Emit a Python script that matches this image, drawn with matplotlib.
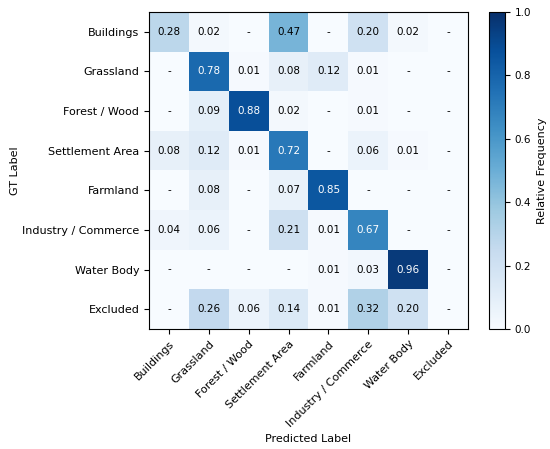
import numpy as np
import matplotlib
matplotlib.use("Agg")
from matplotlib import pyplot as plt

classes = ["Buildings", "Grassland", "Forest / Wood", "Settlement Area",
           "Farmland", "Industry / Commerce", "Water Body", "Excluded"]

# rows = GT label, cols = predicted label (0 shown as "-")
row_buildings = [0.28, 0.02, 0.00, 0.47, 0.00, 0.20, 0.02, 0.00]
row_grassland = [0.00, 0.78, 0.01, 0.08, 0.12, 0.01, 0.00, 0.00]
row_forest = [0.00, 0.09, 0.88, 0.02, 0.00, 0.01, 0.00, 0.00]
row_settlement = [0.08, 0.12, 0.01, 0.72, 0.00, 0.06, 0.01, 0.00]
row_farmland = [0.00, 0.08, 0.00, 0.07, 0.85, 0.00, 0.00, 0.00]
row_industry = [0.04, 0.06, 0.00, 0.21, 0.01, 0.67, 0.00, 0.00]
row_water = [0.00, 0.00, 0.00, 0.00, 0.01, 0.03, 0.96, 0.00]
row_excluded = [0.00, 0.26, 0.06, 0.14, 0.01, 0.32, 0.20, 0.00]

cm = np.array([row_buildings, row_grassland, row_forest, row_settlement,
               row_farmland, row_industry, row_water, row_excluded])

fig = plt.figure(figsize=(5.5, 4.49), dpi=100)
ax = fig.add_axes([149 / 550, 1 - 329 / 449, 319 / 550, 317 / 449])
cax = fig.add_axes([489 / 550, 1 - 329 / 449, 16 / 550, 317 / 449])

im = ax.imshow(cm, cmap="Blues", vmin=0, vmax=1, aspect="auto")
cb = fig.colorbar(im, cax=cax)
cb.set_label("Relative Frequency", fontsize=8, labelpad=4)
cb.ax.tick_params(labelsize=7.5)

ax.set_xticks(range(len(classes)))
ax.set_yticks(range(len(classes)))
ax.set_xticklabels(classes, rotation=45, ha="right", rotation_mode="anchor", fontsize=8)
ax.set_yticklabels(classes, fontsize=8)
ax.set_xlabel("Predicted Label", fontsize=8)
ax.set_ylabel("GT Label", fontsize=8)
ax.xaxis.set_label_coords(0.5, -0.33)
ax.yaxis.set_label_coords(-0.405, 0.5)

for i in range(cm.shape[0]):
    for j in range(cm.shape[1]):
        v = cm[i, j]
        txt = "%.2f" % v if v > 0 else "-"
        ax.text(j, i, txt, ha="center", va="center", fontsize=7.5,
                color="white" if v > 0.5 else "black")

fig.savefig("out.png", dpi=100)
